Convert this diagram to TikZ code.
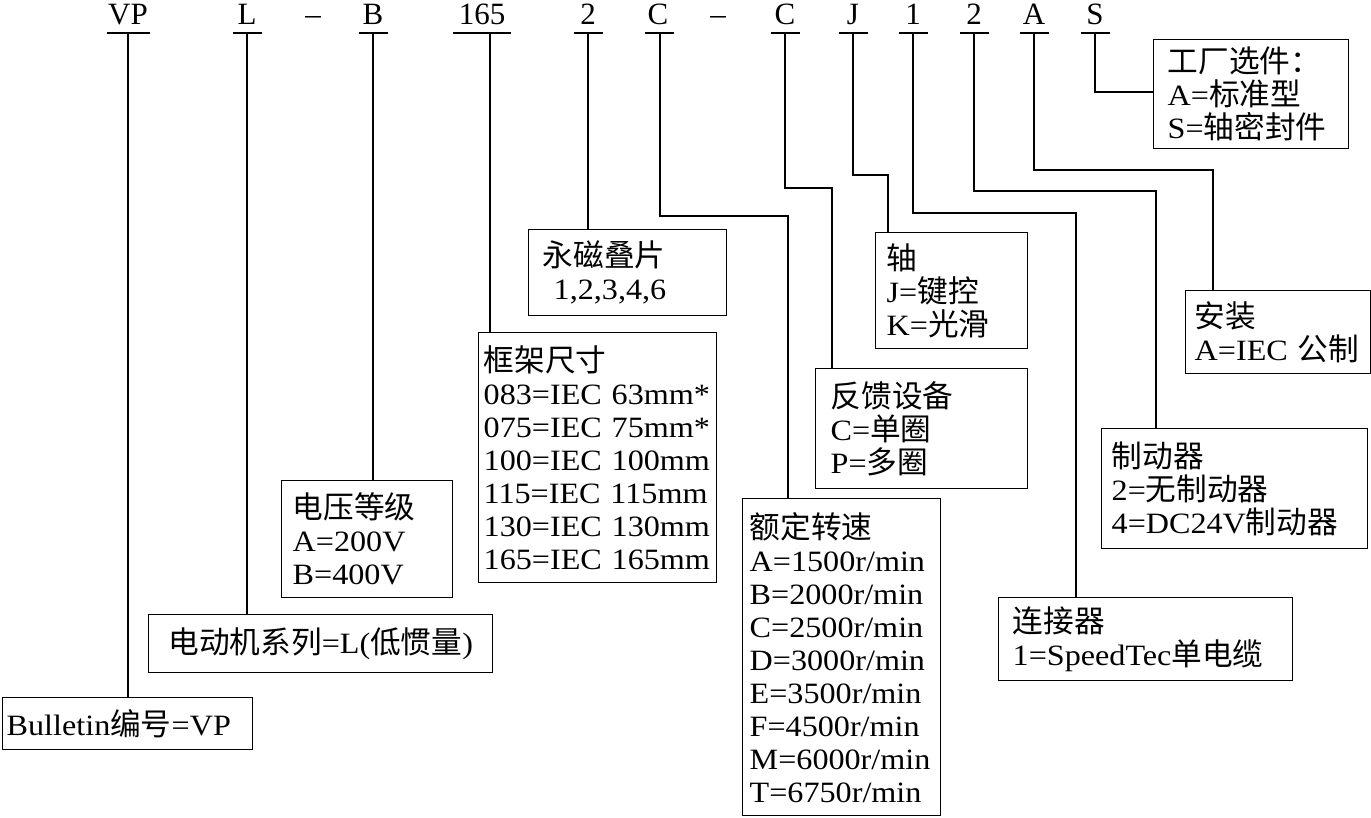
\documentclass[tikz,border=0pt]{standalone}
\usepackage{fontspec}
\setmainfont[FakeStretch=1.09]{Liberation Serif}
\newfontfamily\cjkf[Scale=1.04]{Noto Sans CJK SC}
\newfontfamily\topfont{Liberation Serif}
\newcommand\zh[1]{{\cjkf #1}}
\newcommand\boxfnt{\fontsize{29.5}{33}\selectfont}
\begin{document}
\begin{tikzpicture}[x=1pt,y=-1pt,
  line/.style={line width=1.2pt},
  box/.style={draw, line width=1.4pt, anchor=north west, align=left, inner ysep=0pt, font=\boxfnt},
  code/.style={anchor=base, inner sep=0pt, font=\topfont\fontsize{31}{31}\selectfont}]
\useasboundingbox (0,0) rectangle (1371,818);

% code letters
\node[code] (nVP) at (128,25) {VP};
\node[code] (nL) at (247,25) {L};
\node[code] (nD1) at (313,25) {–};
\node[code] (nB) at (373,25) {B};
\node[code] (n165) at (482,25) {165};
\node[code] (n2a) at (588,25) {2};
\node[code] (nC1) at (658,25) {C};
\node[code] (nD2) at (718,25) {–};
\node[code] (nC2) at (785,25) {C};
\node[code] (nJ) at (853,25) {J};
\node[code] (n1) at (913,25) {1};
\node[code] (n2b) at (974,25) {2};
\node[code] (nA) at (1034,25) {A};
\node[code] (nS) at (1095,25) {S};

% T-bar points
\coordinate (tVP) at (128,33);
\coordinate (tL) at (247,33);
\coordinate (tB) at (373,33);
\coordinate (t165) at (490,33);
\coordinate (t2a) at (588,33);
\coordinate (tC1) at (660,33);
\coordinate (tC2) at (785,33);
\coordinate (tJ) at (853,33);
\coordinate (t1) at (913,33);
\coordinate (t2b) at (974,33);
\coordinate (tA) at (1034,33);
\coordinate (tS) at (1095,33);

\draw[line] (107,33) -- (150,33);
\draw[line] (233,33) -- (262,33);
\draw[line] (359,33) -- (388,33);
\draw[line] (453,33) -- (511,33);
\draw[line] (574,33) -- (603,33);
\draw[line] (645,33) -- (674,33);
\draw[line] (771,33) -- (800,33);
\draw[line] (839,33) -- (868,33);
\draw[line] (899,33) -- (928,33);
\draw[line] (960,33) -- (989,33);
\draw[line] (1020,33) -- (1049,33);
\draw[line] (1081,33) -- (1110,33);

% boxes
\node[box, inner xsep=14pt, text width=167pt, minimum height=109pt] (fac) at (1153,39)
  {\zh{工厂选件：}\\A=\zh{标准型}\\S=\zh{轴密封件}};
\node[box, inner xsep=9pt, text width=167pt, minimum height=83pt] (mount) at (1185,290)
  {\zh{安装}\\A=IEC \zh{公制}};
\node[box, inner xsep=10pt, text width=246pt, minimum height=120pt] (brake) at (1101,428)
  {\zh{制动器}\\2=\zh{无制动器}\\4=DC24V\zh{制动器}};
\node[box, inner xsep=14pt, text width=266pt, minimum height=83pt] (conn) at (998,597)
  {\zh{连接器}\\1=SpeedTec\zh{单电缆}};
\node[box, inner xsep=11pt, text width=130pt, minimum height=116pt] (shaft) at (875,232)
  {\zh{轴}\\J=\zh{键控}\\K=\zh{光滑}};
\node[box, inner xsep=15pt, text width=182pt, minimum height=120pt] (fb) at (815,368)
  {\zh{反馈设备}\\C=\zh{单圈}\\P=\zh{多圈}};
\node[box, inner xsep=7pt, text width=184pt, minimum height=317pt] (speed) at (742,498)
  {\zh{额定转速}\\A=1500r/min\\B=2000r/min\\C=2500r/min\\D=3000r/min\\E=3500r/min\\F=4500r/min\\M=6000r/min\\T=6750r/min};
\node[box, inner xsep=14pt, text width=170pt, minimum height=86pt] (pm) at (528,229)
  {\zh{永磁叠片}\\\hspace*{11pt}1,2,3,4,6};
\node[box, inner xsep=5pt, text width=228pt, minimum height=250pt] (frame) at (478,332)
  {\zh{框架尺寸}\\083=IEC 63mm*\\075=IEC 75mm*\\100=IEC 100mm\\115=IEC 115mm\\130=IEC 130mm\\165=IEC 165mm};
\node[box, inner xsep=11pt, text width=149pt, minimum height=117pt] (volt) at (281,480)
  {\zh{电压等级}\\A=200V\\B=400V};
\node[box, align=center, inner xsep=15pt, text width=314pt, minimum height=58pt] (motor) at (148,614)
  {\zh{电动机系列}=L(\zh{低惯量})};
\node[box, inner xsep=4pt, text width=242pt, minimum height=52pt] (bul) at (2,697)
  {Bulletin\zh{编号}=VP};

% elbow points
\coordinate (kC1) at (788,216);
\coordinate (kC2) at (832,188);
\coordinate (kJ) at (888,175);
\coordinate (k1) at (1076,213);
\coordinate (k2b) at (1156,191);
\coordinate (kA) at (1213,170);
\coordinate (kS) at (1153,92);

% connectors
\draw[line] (tVP) -- (tVP |- bul.north);
\draw[line] (tL) -- (tL |- motor.north);
\draw[line] (tB) -- (tB |- volt.north);
\draw[line] (t165) -- (t165 |- frame.north);
\draw[line] (t2a) -- (t2a |- pm.north);
\draw[line] (tC1) |- (kC1) -- (kC1 |- speed.north);
\draw[line] (tC2) |- (kC2) -- (kC2 |- fb.north);
\draw[line] (tJ) |- (kJ) -- (kJ |- shaft.north);
\draw[line] (t1) |- (k1) -- (k1 |- conn.north);
\draw[line] (t2b) |- (k2b) -- (k2b |- brake.north);
\draw[line] (tA) |- (kA) -- (kA |- mount.north);
\draw[line] (tS) |- (kS -| fac.west);
\end{tikzpicture}
\end{document}
